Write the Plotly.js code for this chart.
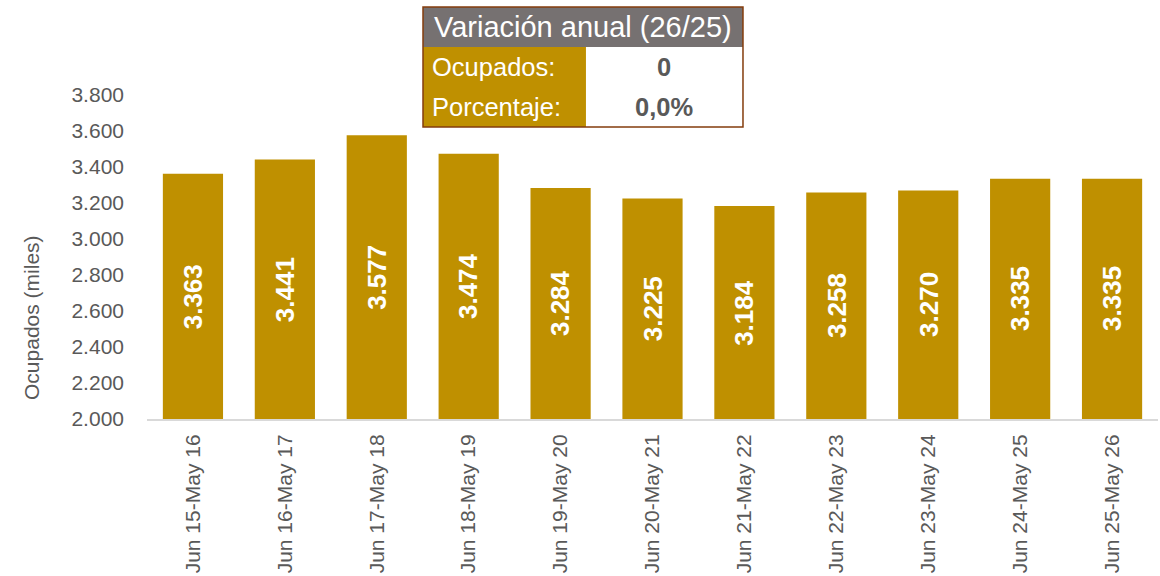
<!DOCTYPE html>
<html><head><meta charset="utf-8">
<script src="https://cdn.plot.ly/plotly-3.0.1.min.js"></script>
<style>body{margin:0;background:#fff}#c{width:1160px;height:576px}</style>
</head><body><div id="c"></div>
<script>
const categories = ["Jun 15-May 16","Jun 16-May 17","Jun 17-May 18","Jun 18-May 19","Jun 19-May 20","Jun 20-May 21","Jun 21-May 22","Jun 22-May 23","Jun 23-May 24","Jun 24-May 25","Jun 25-May 26"];
const ocupados = [3363,3441,3577,3474,3284,3225,3184,3258,3270,3335,3335];
const yTicks = [2000,2200,2400,2600,2800,3000,3200,3400,3600,3800];
const yMin = 2000, yMax = 3800;
const yTitle = "Ocupados (miles)";
const tableTitle = "Variación anual (26/25)";
const tableRows = ["Ocupados:","Porcentaje:"];
const tableValues = ["0","0,0%"];

const FONT = "Arial, 'Liberation Sans', sans-serif";
const GOLD = "#BF9000";
const GRAY = "#595959";

function fmt(v){ return Math.floor(v/1000) + "." + String(v % 1000).padStart(3, "0"); }

const trace = {
  type: "bar", x: categories, y: ocupados,
  marker: {color: GOLD},
  hoverinfo: "skip"
};

// value labels centred in the visible part of each bar
const labelAnns = categories.map((c, i) => ({
  xref: "x", yref: "y", x: c, y: (yMin + ocupados[i]) / 2,
  text: "<b>" + fmt(ocupados[i]) + "</b>", showarrow: false, textangle: -90,
  font: {family: FONT, size: 26, color: "#ffffff"}, xanchor: "center", yanchor: "middle"
}));

// table geometry in paper coords
const x0 = 0.273, x1 = 0.4342, x2 = 0.5895;
const yT = 1.2716, yH = 1.1481, yR1 = 1.0247, yR2 = 0.9012;
const shapes = [
  {type:"rect", xref:"paper", yref:"paper", x0:x0, x1:x2, y0:yH, y1:yT, fillcolor:"#767171", line:{width:0}},
  {type:"rect", xref:"paper", yref:"paper", x0:x0, x1:x1, y0:yR2, y1:yH, fillcolor:GOLD, line:{width:0}},
  {type:"rect", xref:"paper", yref:"paper", x0:x1, x1:x2, y0:yR2, y1:yH, fillcolor:"#fff", line:{width:0}},
  {type:"rect", xref:"paper", yref:"paper", x0:x0, x1:x2, y0:yR2, y1:yT, fillcolor:"rgba(0,0,0,0)", line:{width:1.5, color:"#843C0C"}}
];
const otherAnns = [
  {xref:"paper", yref:"paper", x:-0.1137, y:0.312, text:yTitle, showarrow:false, textangle:-90,
   font:{family:FONT, size:21, color:GRAY}, xanchor:"center", yanchor:"middle"},
  {xref:"paper", yref:"paper", x:(x0+x2)/2, y:(yH+yT)/2, text:tableTitle, showarrow:false,
   font:{family:FONT, size:29, color:"#fff"}, xanchor:"center", yanchor:"middle"},
  {xref:"paper", yref:"paper", x:x0+0.007, y:(yR1+yH)/2, text:tableRows[0], showarrow:false,
   font:{family:FONT, size:25.5, color:"#fff"}, xanchor:"left", yanchor:"middle"},
  {xref:"paper", yref:"paper", x:x0+0.007, y:(yR2+yR1)/2, text:tableRows[1], showarrow:false,
   font:{family:FONT, size:25.5, color:"#fff"}, xanchor:"left", yanchor:"middle"},
  {xref:"paper", yref:"paper", x:(x1+x2)/2, y:(yR1+yH)/2, text:"<b>"+tableValues[0]+"</b>", showarrow:false,
   font:{family:FONT, size:25.5, color:GRAY}, xanchor:"center", yanchor:"middle"},
  {xref:"paper", yref:"paper", x:(x1+x2)/2, y:(yR2+yR1)/2, text:"<b>"+tableValues[1]+"</b>", showarrow:false,
   font:{family:FONT, size:25.5, color:GRAY}, xanchor:"center", yanchor:"middle"}
];

const layout = {
  width: 1160, height: 576,
  margin: {l:147, r:2, t:95, b:157},
  paper_bgcolor: "#fff", plot_bgcolor: "#fff",
  separators: ",.",
  bargap: 0.345,
  showlegend: false,
  font: {family: FONT, color: GRAY},
  xaxis: {
    type: "category", tickangle: -90, showgrid: false, zeroline: false,
    showline: true, linecolor: "#D9D9D9", linewidth: 2,
    ticks: "", ticklabelstandoff: 5,
    tickfont: {family: FONT, size: 21, color: GRAY}
  },
  yaxis: {
    range: [yMin, yMax], tickvals: yTicks, tickformat: ",d",
    showgrid: false, zeroline: false, showline: false,
    ticks: "", ticklabelstandoff: 22,
    tickfont: {family: FONT, size: 21, color: GRAY}
  },
  shapes: shapes, annotations: labelAnns.concat(otherAnns)
};
Plotly.newPlot("c", [trace], layout, {displayModeBar: false, staticPlot: true});
</script></body></html>
